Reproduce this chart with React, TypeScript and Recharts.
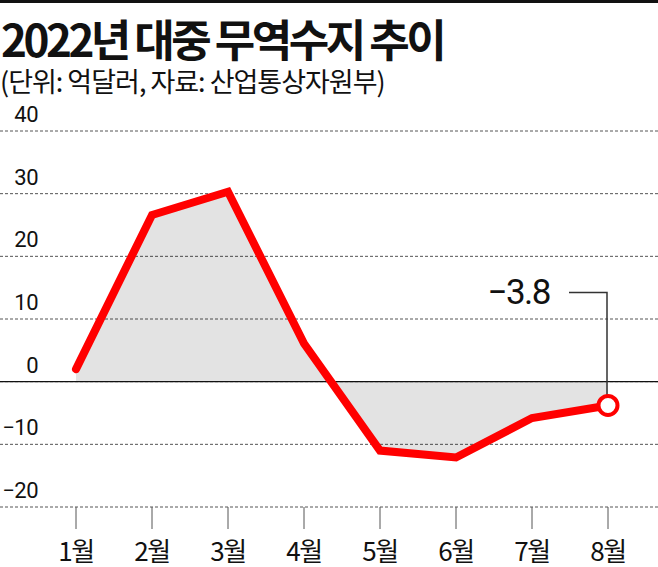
import { ComposedChart, Line, Area, XAxis, YAxis, CartesianGrid, ReferenceLine } from "recharts";

const MONTHS = ["1월", "2월", "3월", "4월", "5월", "6월", "7월", "8월"];
const BALANCE = [2.0, 26.6, 30.3, 6.1, -11.0, -12.1, -5.8, -3.8];
const Y_TICKS = [-20, -10, 0, 10, 20, 30, 40];

const data = MONTHS.map((m, i) => ({ month: m, value: BALANCE[i] }));

const NUM_FONT = "Roboto, 'Noto Sans CJK KR', sans-serif";
const KR_FONT = "'Noto Sans CJK KR', 'Noto Sans', sans-serif";

const fmt = (v: number) => (v < 0 ? "\u2212" + Math.abs(v) : String(v));

function YTick(props: any) {
    const { y, payload } = props;
    return (
        <text x={38} y={y - 9} textAnchor="end" fontSize={22} fontFamily={NUM_FONT} fill="#111" letterSpacing={-0.5}>
            {fmt(payload.value)}
        </text>
    );
}

function XTick(props: any) {
    const { x, payload } = props;
    return (
        <text x={x} y={561} textAnchor="middle" fontSize={26} fontFamily={KR_FONT} fill="#111" letterSpacing={-1.5}>
            {payload.value}
        </text>
    );
}

function LastDot(props: any) {
    const { cx, cy, index } = props;
    if (index !== BALANCE.length - 1) return <g key={`d-${index}`} />;
    return (
        <g key={`d-${index}`}>
            <polyline
                points={`${cx - 39},${cy - 113} ${cx - 1},${cy - 113} ${cx - 1},${cy - 10}`}
                fill="none"
                stroke="#333"
                strokeWidth={1.5}
            />
            <circle cx={cx} cy={cy} r={9.5} fill="#fff" stroke="#ff0000" strokeWidth={4} />
            <text x={cx - 58} y={cy - 101} textAnchor="end" fontSize={35} fontFamily={NUM_FONT} fill="#111" letterSpacing={-1.5}>
                {fmt(BALANCE[index])}
            </text>
        </g>
    );
}

export default function App() {
    return (
        <div style={{ position: "absolute", left: 0, top: 0, width: 658, height: 567, background: "#fff", overflow: "hidden" }}>
            <div style={{ position: "absolute", left: 0, top: 0, width: 658, height: 3, background: "#111" }} />
            <div
                style={{
                    position: "absolute",
                    left: 1,
                    top: 15,
                    fontFamily: KR_FONT,
                    fontWeight: 700,
                    fontSize: 44,
                    letterSpacing: -3.5,
                    lineHeight: "46px",
                    color: "#111",
                    whiteSpace: "nowrap",
                }}
            >
                2022년 대중 무역수지 추이
            </div>
            <div
                style={{
                    position: "absolute",
                    left: 0,
                    top: 66,
                    fontFamily: KR_FONT,
                    fontWeight: 400,
                    fontSize: 27,
                    letterSpacing: -1,
                    lineHeight: "30px",
                    color: "#111",
                    whiteSpace: "nowrap",
                }}
            >
                (단위: 억달러, 자료: 산업통상자원부)
            </div>
            <ComposedChart
                width={658}
                height={567}
                data={data}
                margin={{ top: 131, right: 0, bottom: 0, left: -40 }}
                style={{ position: "absolute", left: 0, top: 0 }}
            >
                <CartesianGrid horizontal vertical={false} stroke="#555" strokeDasharray="3 2" />
                <XAxis
                    dataKey="month"
                    height={60}
                    padding={{ left: 76, right: 50 }}
                    axisLine={false}
                    tickLine={{ stroke: "#555", strokeWidth: 1 }}
                    tickSize={22}
                    tick={<XTick />}
                    interval={0}
                />
                <YAxis domain={[-20, 40]} ticks={Y_TICKS} width={40} axisLine={false} tickLine={false} tick={<YTick />} interval={0} />
                <Area
                    type="linear"
                    dataKey="value"
                    baseValue={0}
                    stroke="none"
                    fill="#000"
                    fillOpacity={0.11}
                    isAnimationActive={false}
                />
                <ReferenceLine y={0} stroke="#111" strokeWidth={1.2} />
                <Line
                    type="linear"
                    dataKey="value"
                    stroke="#ff0000"
                    strokeWidth={8}
                    strokeLinecap="round"
                    dot={LastDot}
                    activeDot={false}
                    isAnimationActive={false}
                />
            </ComposedChart>
        </div>
    );
}
